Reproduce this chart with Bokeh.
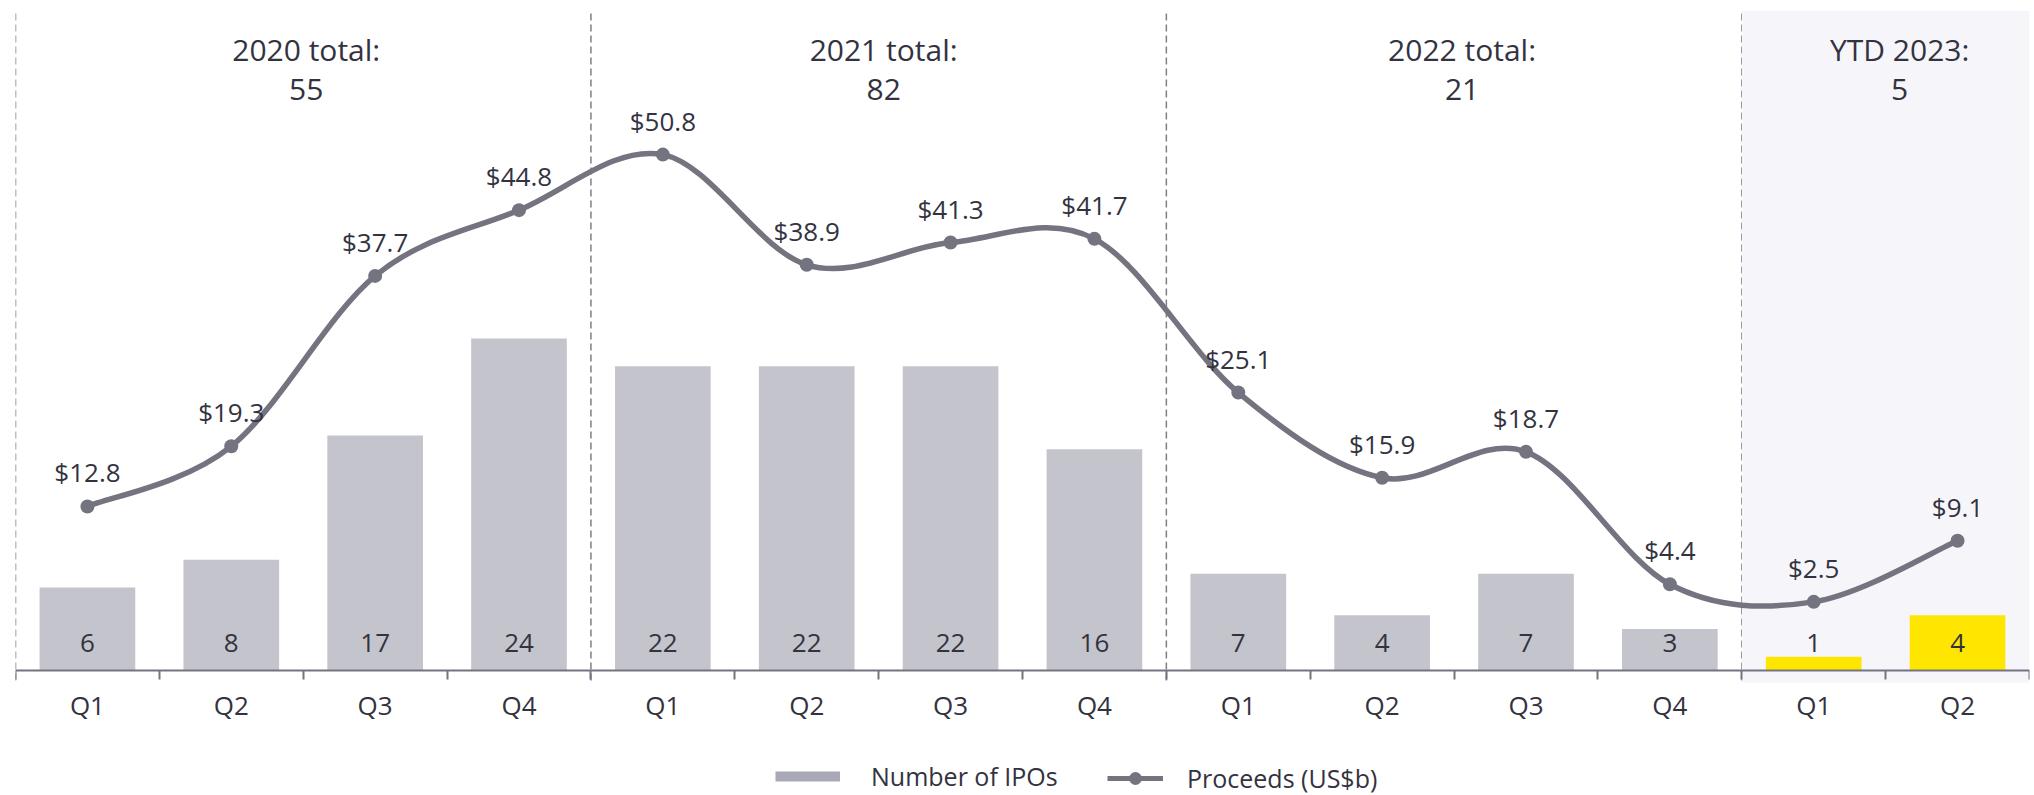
from bokeh.plotting import figure
from bokeh.models import (Range1d, LinearAxis, FixedTicker, BoxAnnotation,
                          ColumnDataSource, Legend, LegendItem)
from bokeh.core.properties import value
from bokeh.embed import file_html
from bokeh.resources import INLINE

# ---------------- data ----------------
quarters = ["Q1", "Q2", "Q3", "Q4", "Q1", "Q2", "Q3", "Q4", "Q1", "Q2", "Q3", "Q4", "Q1", "Q2"]
years = ["2020"] * 4 + ["2021"] * 4 + ["2022"] * 4 + ["2023"] * 2
ipo_counts = [6, 8, 17, 24, 22, 22, 22, 16, 7, 4, 7, 3, 1, 4]
proceeds = [12.8, 19.3, 37.7, 44.8, 50.8, 38.9, 41.3, 41.7, 25.1, 15.9, 18.7, 4.4, 2.5, 9.1]
group_years = ["2020", "2021", "2022", "2023"]
group_titles = ["2020 total:", "2021 total:", "2022 total:", "YTD 2023:"]
group_totals = [55, 82, 21, 5]

# ---------------- styles ----------------
FONT = value("Open Sans")
TEXT = "#33333F"
GRAY_BAR = "#C4C4CD"
YELLOW = "#FFE600"
LINE = "#747480"
SHADE = "#F6F6FA"
DASH = "#7E7E88"
TITLE_DX = [3, 5, 8, 14]   # small horizontal nudges of the group titles (px)

n = len(quarters)
xs = [i + 0.5 for i in range(n)]
colors = [YELLOW if y == "2023" else GRAY_BAR for y in years]
bar_labels = [str(v) for v in ipo_counts]
proc_labels = ["$%.1f" % v for v in proceeds]

W, H = 2034, 795
LEFT, RIGHT, TOP = 15, 5, 10
FRAME_H = H - TOP
BASE_UP = 125             # baseline distance above frame bottom (px)
PX_IPO = 13.83            # px per IPO
PX_PROC = 9.26            # px per US$b
PROC_ZERO = 45.5          # px of proceeds zero above baseline
Y0 = -BASE_UP / PX_IPO
Y1 = Y0 + FRAME_H / PX_IPO
P0 = -(BASE_UP + PROC_ZERO) / PX_PROC
P1 = P0 + FRAME_H / PX_PROC

p = figure(width=W, height=H, x_range=Range1d(0, n), y_range=Range1d(Y0, Y1),
           output_backend="svg", toolbar_location=None,
           x_axis_type=None, y_axis_type=None,
           min_border_left=LEFT, min_border_right=RIGHT, min_border_top=TOP, min_border_bottom=0)
p.extra_y_ranges = {"proc": Range1d(P0, P1)}
p.outline_line_color = None
p.background_fill_color = "white"
p.xgrid.visible = False
p.ygrid.visible = False

# shaded YTD region and dashed year separators
starts = [years.index(g) for g in group_years]
p.add_layout(BoxAnnotation(left=starts[-1], right=n, bottom=-12 / PX_IPO,
                           fill_color=SHADE, fill_alpha=1.0, line_color=None, level="underlay"))
p.segment(x0=starts, x1=starts, y0=[-10 / PX_IPO] * len(starts), y1=[Y1] * len(starts),
          line_color=DASH, line_width=1.5, line_dash="7 4", level="underlay")

# bars
src = ColumnDataSource(dict(x=xs, top=ipo_counts, color=colors, lab=bar_labels))
bars = p.vbar(x="x", top="top", width=0.665, bottom=0, fill_color="color", line_color=None,
              source=src)
p.text(x="x", y=0, text="lab", source=src, text_align="center", text_baseline="middle",
       y_offset=-28, text_font=FONT, text_font_size="26px", text_color=TEXT)

# smoothed proceeds line (Catmull-Rom -> cubic Bezier segments through the data points)
pts = list(zip(xs, proceeds))
bz = dict(x0=[], y0=[], x1=[], y1=[], cx0=[], cy0=[], cx1=[], cy1=[])
for i in range(n - 1):
    pm = pts[i - 1] if i > 0 else pts[i]
    a = pts[i]
    b = pts[i + 1]
    pn = pts[i + 2] if i + 2 < n else pts[i + 1]
    bz["x0"].append(a[0]); bz["y0"].append(a[1])
    bz["x1"].append(b[0]); bz["y1"].append(b[1])
    bz["cx0"].append(a[0] + (b[0] - pm[0]) / 6); bz["cy0"].append(a[1] + (b[1] - pm[1]) / 6)
    bz["cx1"].append(b[0] - (pn[0] - a[0]) / 6); bz["cy1"].append(b[1] - (pn[1] - a[1]) / 6)
p.bezier(x0="x0", y0="y0", x1="x1", y1="y1", cx0="cx0", cy0="cy0", cx1="cx1", cy1="cy1",
         source=ColumnDataSource(bz), y_range_name="proc", line_color=LINE, line_width=5.5,
         line_cap="round")

psrc = ColumnDataSource(dict(x=xs, y=proceeds, lab=proc_labels))
dots = p.scatter(x="x", y="y", source=psrc, y_range_name="proc", size=14,
                 fill_color=LINE, line_color=None)
p.text(x="x", y="y", text="lab", source=psrc, y_range_name="proc", text_align="center",
       text_baseline="middle", y_offset=-34, text_font=FONT, text_font_size="26px",
       text_color=TEXT)

# group titles
gx = [sum(xs[i] for i in range(n) if years[i] == g) / years.count(g) for g in group_years]
gsrc = ColumnDataSource(dict(x=gx, t=group_titles, v=[str(v) for v in group_totals],
                             dx=TITLE_DX))
p.text(x="x", y=Y1, text="t", source=gsrc, text_align="center", text_baseline="middle",
       x_offset="dx", y_offset=39, text_font=FONT, text_font_size="30px", text_color=TEXT)
p.text(x="x", y=Y1, text="v", source=gsrc, text_align="center", text_baseline="middle",
       x_offset="dx", y_offset=79, text_font=FONT, text_font_size="30px", text_color=TEXT)

# x axis at the zero line: labels at centres, ticks at boundaries
xaxis = LinearAxis(ticker=FixedTicker(ticks=xs, minor_ticks=list(range(n + 1))),
                   major_label_overrides={x: q for x, q in zip(xs, quarters)},
                   fixed_location=0)
xaxis.axis_line_color = LINE
xaxis.axis_line_width = 2
xaxis.major_tick_line_color = None
xaxis.major_tick_out = 0
xaxis.major_tick_in = 0
xaxis.minor_tick_line_color = LINE
xaxis.minor_tick_line_width = 2
xaxis.minor_tick_out = 9
xaxis.minor_tick_in = 0
xaxis.major_label_standoff = 7
xaxis.major_label_text_font = "Open Sans"
xaxis.major_label_text_font_size = "26px"
xaxis.major_label_text_color = TEXT
p.add_layout(xaxis, "below")

# legend swatches (single NaN point: draws nothing in the plot area)
nan = float("nan")
swatch_bar = p.line(x=[nan], y=[nan], line_color="#A8A8B8", line_width=10)
swatch_line = p.line(x=[nan], y=[nan], line_color=LINE, line_width=5, y_range_name="proc")


def mk_legend(item, loc, gw, gh, so):
    return Legend(items=[item], location=loc, orientation="horizontal", glyph_width=gw,
                  glyph_height=gh, label_height=gh, label_standoff=so, padding=0, margin=0,
                  border_line_color=None, background_fill_alpha=0.0,
                  label_text_font="Open Sans", label_text_font_size="25px",
                  label_text_color=TEXT)


p.add_layout(mk_legend(LegendItem(label="Number of IPOs", renderers=[swatch_bar]),
                       (760, 2), 65, 28, 31))
p.add_layout(mk_legend(LegendItem(label="Proceeds (US$b)", renderers=[swatch_line, dots]),
                       (1092, 0), 56, 32, 24))

open("out.html", "w").write(file_html(p, INLINE))
